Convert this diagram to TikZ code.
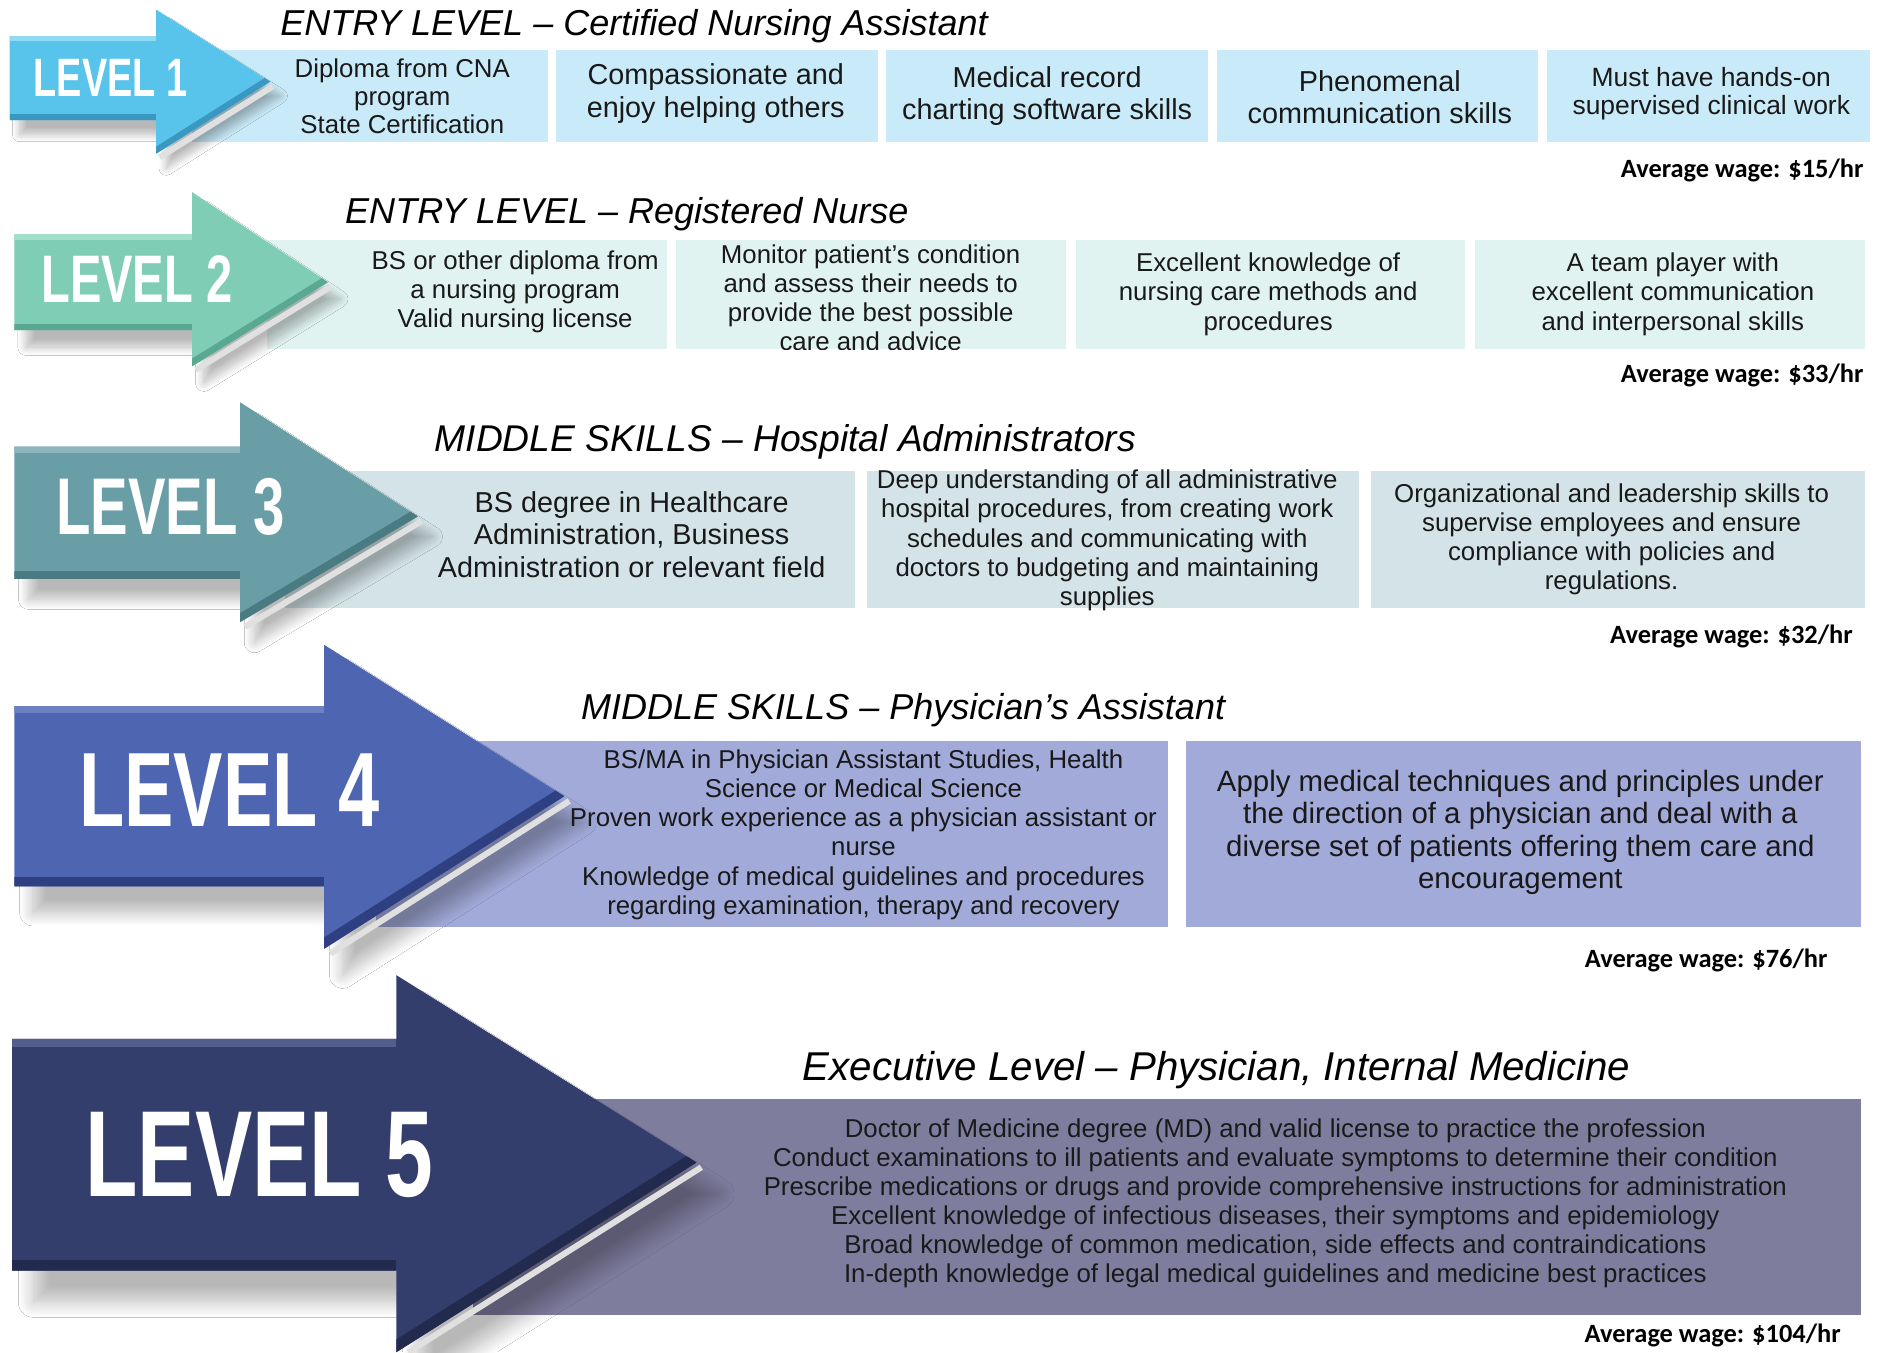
\documentclass[tikz,border=0pt]{standalone}
\usepackage{fontspec}
\setmainfont{Liberation Sans}
\newfontfamily\levelfont{Liberation Sans}[FakeStretch=0.7]
\newfontfamily\wagefont{Carlito}
\usetikzlibrary{shadows.blur}

\definecolor{lvone}{HTML}{58C4EC}
\definecolor{lvonelt}{HTML}{8FDAF5}
\definecolor{lvonedk}{HTML}{3A97C0}
\definecolor{bandone}{HTML}{C9EAF8}
\definecolor{lvtwo}{HTML}{7FCDB5}
\definecolor{lvtwolt}{HTML}{A5DDCB}
\definecolor{lvtwodk}{HTML}{5BA892}
\definecolor{bandtwo}{HTML}{E1F3F0}
\definecolor{lvthree}{HTML}{6A9EA6}
\definecolor{lvthreelt}{HTML}{8DB6BC}
\definecolor{lvthreedk}{HTML}{4A7B83}
\definecolor{bandthree}{HTML}{D4E3E7}
\definecolor{lvfour}{HTML}{4E66B1}
\definecolor{lvfourlt}{HTML}{6C81C4}
\definecolor{lvfourdk}{HTML}{2E3F82}
\definecolor{bandfour}{HTML}{A2AAD9}
\definecolor{lvfive}{HTML}{343E6C}
\definecolor{lvfivelt}{HTML}{545E8C}
\definecolor{lvfivedk}{HTML}{222A4E}
\definecolor{bandfive}{HTML}{7F7D9E}

\begin{document}
\begin{tikzpicture}[x=1pt,y=-1pt,
  skilltext/.style={align=center,inner sep=0pt,text=black!90},
  sz/.style 2 args={font=\fontsize{#1}{#2}\selectfont},
  title/.style={font=\itshape\fontsize{#1}{34}\selectfont,inner sep=0pt},
  title/.default=30,
  wage/.style={font=\wagefont\bfseries\fontsize{22}{24}\selectfont,anchor=east,inner sep=0pt},
  lvltext/.style={font=\levelfont\bfseries\fontsize{#1}{#1}\selectfont,text=white,inner sep=0pt},
  arrowshade/.style={blur shadow={shadow xshift=#1*0.7pt,shadow yshift=-#1pt,shadow opacity=28,shadow blur steps=14,shadow blur radius=#1*0.5pt}},
  sliver/.style={black!12,line width=5}]
\useasboundingbox[fill=white] (0,0) rectangle (1568,1126);

% level 1
\fill[bandone] (160,42) rectangle (456,118);
\fill[bandone] (463,42) rectangle (731,118);
\fill[bandone] (738,42) rectangle (1006,118);
\fill[bandone] (1013,42) rectangle (1281,118);
\fill[bandone] (1288,42) rectangle (1557,118);
\fill[lvone,arrowshade=12] (8,30)--(130,30)--(130,8)--(225,68)--(130,128)--(130,100)--(8,100)--cycle;
\begin{scope}
  \clip (8,30)--(130,30)--(130,8)--(225,68)--(130,128)--(130,100)--(8,100)--cycle;
  \draw[lvonedk,line width=10] (8,100)--(130,100);
  \draw[lvonedk,line width=10] (130,128)--(225,68);
  \draw[lvonelt,line width=8] (8,30)--(130,30);
\end{scope}
\draw[sliver] (227,72)--(133,131);
\node[lvltext=45] (l1) at (92,65) {LEVEL 1};
\node[title] (t1) at (528,22) {ENTRY LEVEL – Certified Nursing Assistant};
\node[skilltext,sz={21.5}{23.5}] (cna) at (335,80) {Diploma from CNA\\program\\State Certification};
\node[skilltext,sz={24}{28}] (care) at (596,78) {Compassionate and\\enjoy helping others};
\node[skilltext,sz={24}{27}] (chart) at (872,80) {Medical record\\charting software skills};
\node[skilltext,sz={24}{27}] (comm) at (1149,81) {Phenomenal\\communication skills};
\node[skilltext,sz={22}{24}] (clin) at (1425,78) {Must have hands-on\\supervised clinical work};
\node[wage] (w1) at (1552,142) {Average wage: \$15/hr};

% level 2
\fill[bandtwo] (222,200) rectangle (555,291);
\fill[bandtwo] (563,200) rectangle (888,291);
\fill[bandtwo] (896,200) rectangle (1220,291);
\fill[bandtwo] (1228,200) rectangle (1553,291);
\fill[lvtwo,arrowshade=14] (12,195)--(160,195)--(160,160)--(273,235)--(160,305)--(160,275)--(12,275)--cycle;
\begin{scope}
  \clip (12,195)--(160,195)--(160,160)--(273,235)--(160,305)--(160,275)--(12,275)--cycle;
  \draw[lvtwodk,line width=11] (12,275)--(160,275);
  \draw[lvtwodk,line width=11] (160,305)--(273,235);
  \draw[lvtwolt,line width=9] (12,195)--(160,195);
\end{scope}
\draw[sliver] (275,239)--(163,308);
\node[lvltext=56] (l2) at (114,232) {LEVEL 2};
\node[title] (t2) at (522,178) {ENTRY LEVEL – Registered Nurse};
\node[skilltext,sz={21.5}{24.3}] (bsn) at (429,243) {BS or other diploma from\\a nursing program\\Valid nursing license};
\begin{scope}
  \clip (563,200) rectangle (888,291);
  \node[skilltext,sz={21.5}{24.3}] (monitor) at (725,248) {Monitor patient’s condition\\and assess their needs to\\provide the best possible\\care and advice};
\end{scope}
\node[skilltext,sz={21.5}{24.3}] (methods) at (1056,245) {Excellent knowledge of\\nursing care methods and\\procedures};
\node[skilltext,sz={21.5}{24.3}] (team) at (1393,245) {A team player with\\excellent communication\\and interpersonal skills};
\node[wage] (w2) at (1552,313) {Average wage: \$33/hr};

% level 3
\fill[bandthree] (237,392) rectangle (712,506);
\fill[bandthree] (722,392) rectangle (1132,506);
\fill[bandthree] (1142,392) rectangle (1553,506);
\fill[lvthree,arrowshade=17] (12,372)--(200,372)--(200,335)--(348,430)--(200,518)--(200,482)--(12,482)--cycle;
\begin{scope}
  \clip (12,372)--(200,372)--(200,335)--(348,430)--(200,518)--(200,482)--(12,482)--cycle;
  \draw[lvthreedk,line width=13] (12,482)--(200,482);
  \draw[lvthreedk,line width=13] (200,518)--(348,430);
  \draw[lvthreelt,line width=10] (12,372)--(200,372);
\end{scope}
\draw[sliver] (351,434)--(204,522);
\node[lvltext=67] (l3) at (142,422) {LEVEL 3};
\node[title=31] (t3) at (654,368) {MIDDLE SKILLS – Hospital Administrators};
\node[skilltext,sz={24}{27}] (bsha) at (526,445) {BS degree in Healthcare\\Administration, Business\\Administration or relevant field};
\node[skilltext,sz={21.5}{24.3}] (admin) at (922,450) {Deep understanding of all administrative\\hospital procedures, from creating work\\schedules and communicating with\\doctors to budgeting and maintaining\\supplies};
\node[skilltext,sz={21.5}{24}] (lead) at (1342,449) {Organizational and leadership skills to\\supervise employees and ensure\\compliance with policies and\\regulations.};
\node[wage] (w3) at (1543,530) {Average wage: \$32/hr};

% level 4
\fill[bandfour] (313,617) rectangle (973,772);
\fill[bandfour] (988,617) rectangle (1550,772);
\fill[lvfour,arrowshade=22] (12,588)--(270,588)--(270,537)--(470,663)--(270,790)--(270,738)--(12,738)--cycle;
\begin{scope}
  \clip (12,588)--(270,588)--(270,537)--(470,663)--(270,790)--(270,738)--(12,738)--cycle;
  \draw[lvfourdk,line width=16] (12,738)--(270,738);
  \draw[lvfourdk,line width=16] (270,790)--(470,663);
  \draw[lvfourlt,line width=12] (12,588)--(270,588);
\end{scope}
\draw[sliver] (474,667)--(275,794);
\node[lvltext=88] (l4) at (191,658) {LEVEL 4};
\node[title] (t4) at (752,591) {MIDDLE SKILLS – Physician’s Assistant};
\node[skilltext,sz={21.5}{24.4}] (pastudy) at (719,695) {BS/MA in Physician Assistant Studies, Health\\Science or Medical Science\\Proven work experience as a physician assistant or\\nurse\\Knowledge of medical guidelines and procedures\\regarding examination, therapy and recovery};
\node[skilltext,sz={24.5}{27}] (apply) at (1266,693) {Apply medical techniques and principles under\\the direction of a physician and deal with a\\diverse set of patients offering them care and\\encouragement};
\node[wage] (w4) at (1522,800) {Average wage: \$76/hr};

% level 5
\fill[bandfive] (394,915) rectangle (1550,1095);
\fill[lvfive,arrowshade=26] (10,865)--(330,865)--(330,812)--(580,968)--(330,1126)--(330,1058)--(10,1058)--cycle;
\begin{scope}
  \clip (10,865)--(330,865)--(330,812)--(580,968)--(330,1126)--(330,1058)--(10,1058)--cycle;
  \draw[lvfivedk,line width=18] (10,1058)--(330,1058);
  \draw[lvfivedk,line width=18] (330,1126)--(580,968);
  \draw[lvfivelt,line width=14] (10,865)--(330,865);
\end{scope}
\draw[sliver] (584,972)--(340,1126);
\node[lvltext=102] (l5) at (216,962) {LEVEL 5};
\node[title=33.5] (t5) at (1013,891) {Executive Level – Physician, Internal Medicine};
\node[skilltext,sz={21.5}{24.2}] (md) at (1062,1002) {Doctor of Medicine degree (MD) and valid license to practice the profession\\Conduct examinations to ill patients and evaluate symptoms to determine their condition\\Prescribe medications or drugs and provide comprehensive instructions for administration\\Excellent knowledge of infectious diseases, their symptoms and epidemiology\\Broad knowledge of common medication, side effects and contraindications\\In-depth knowledge of legal medical guidelines and medicine best practices};
\node[wage] (w5) at (1533,1112) {Average wage: \$104/hr};
\end{tikzpicture}
\end{document}
